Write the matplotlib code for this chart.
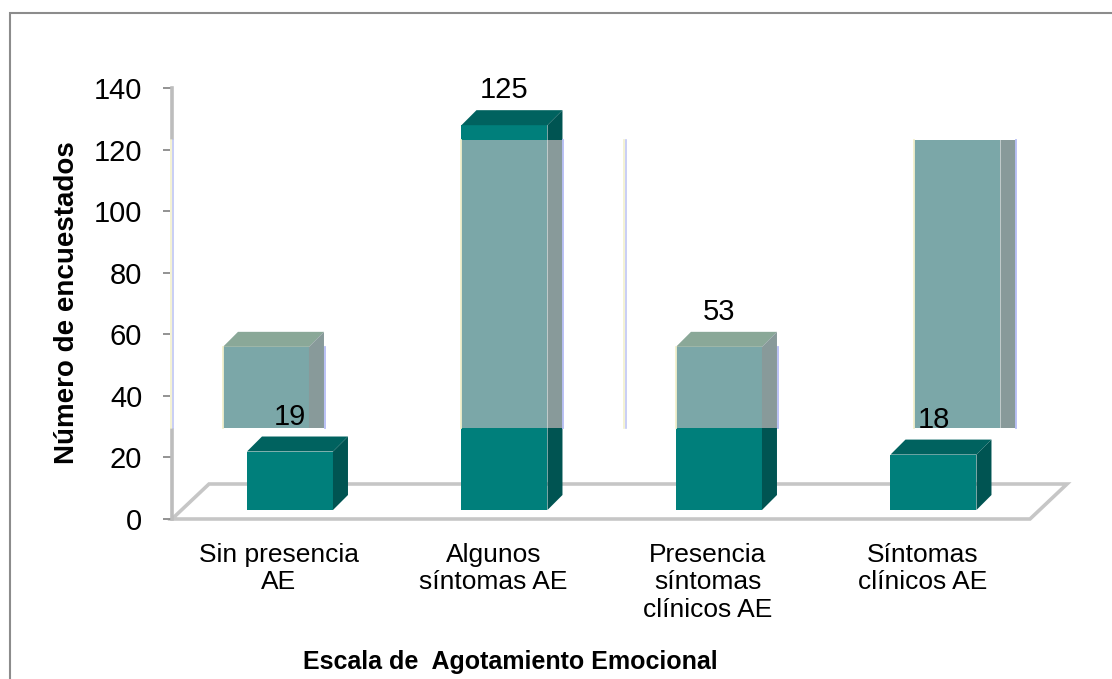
import matplotlib
matplotlib.use("Agg")
import matplotlib.pyplot as plt
from matplotlib.patches import Rectangle, Polygon

plt.rcParams["font.family"] = ["Liberation Sans", "DejaVu Sans"]

# data
categories = ["Sin presencia\nAE", "Algunos\nsíntomas AE", "Presencia\nsíntomas\nclínicos AE", "Síntomas\nclínicos AE"]
valores = [19, 125, 53, 18]
# ghost layer left in the picture by the rendering glitch
fantasma = [53, 125, 53, 125]
yticks = [0, 20, 40, 60, 80, 100, 120, 140]
titulo_x = "Escala de  Agotamiento Emocional"
titulo_y = "Número de encuestados"

W, H = 1112, 679
fig = plt.figure(figsize=(W / 100, H / 100), dpi=100)
fig.patch.set_facecolor("white")

# axes box in image pixels: x 172..1030, y 519 (0) .. 88 (140)
L, R, B, T = 172, 1030, 519, 88
ax = fig.add_axes([L / W, (H - B) / H, (R - L) / W, (B - T) / H])
xmin, xmax = -0.55, 3.45
ax.set_xlim(xmin, xmax)
ax.set_ylim(0, 140)
ax.patch.set_alpha(0)

sx = (R - L) / (xmax - xmin)  # px per x unit
sy = (B - T) / 140.0  # px per y unit


def px_x(p):
    return p / sx


def px_y(p):
    return p / sy


# outer frame
fig.patches.append(Rectangle((10 / W, -0.05), 1.2, (H - 13) / H + 0.05, transform=fig.transFigure,
                             fill=False, edgecolor="#8c8c8c", lw=1.5))

# floor
fdx, fdy = px_x(37), px_y(35)
floor = [(xmin, 0), (xmax, 0), (xmax + fdx, fdy), (xmin + fdx, fdy)]
ax.add_patch(Polygon(floor, closed=True, fill=False, edgecolor="#c6c6c6", lw=2.6,
                     joinstyle="miter", clip_on=False, zorder=1))

# bars
bw = px_x(86)
ddx, ddy = px_x(15), px_y(15)
base = px_y(9)
xs = list(range(len(valores)))


def bar3d(x, h, front, top, side, z, clip=None):
    x0, x1 = x - bw / 2, x + bw / 2
    y1 = base + h
    pts = [
        Rectangle((x0, base), bw, h, facecolor=front, edgecolor="none"),
        Polygon([(x0, y1), (x1, y1), (x1 + ddx, y1 + ddy), (x0 + ddx, y1 + ddy)],
                closed=True, facecolor=top, edgecolor="none"),
        Polygon([(x1, base), (x1 + ddx, base + ddy), (x1 + ddx, y1 + ddy), (x1, y1)],
                closed=True, facecolor=side, edgecolor="none"),
    ]
    for p in pts:
        p.set_zorder(z)
        ax.add_patch(p)
        if clip is not None:
            p.set_clip_on(True)
            p.set_clip_path(clip)
        else:
            p.set_clip_on(False)
    return x0, x1 + ddx


for x, v in zip(xs, valores):
    bar3d(x, v, "#007f7b", "#00625f", "#005452", 3)
    ax.annotate(str(v), (x, base + v + ddy), xytext=(0, 12 * 0.72), textcoords="offset points",
                ha="center", va="baseline", fontsize=21, color="black", zorder=10)

# axis
ax.spines[["top", "right", "bottom"]].set_visible(False)
ax.spines["left"].set_color("#bdbdbd")
ax.spines["left"].set_linewidth(2.6)
ax.set_yticks(yticks)
ax.tick_params(axis="y", length=6.5, width=1.2, color="#808080", pad=15, labelsize=21)
ax.set_xticks([x - px_x(11) for x in xs])
ax.set_xticklabels(categories, fontsize=19, linespacing=1.2)
ax.tick_params(axis="x", length=0, pad=17)

# glitch band: a white strip redrawn with a pale copy of the bars
band_lo, band_hi = px_y(B - 428), px_y(B - 140)
band = Rectangle((xmin - px_x(2), band_lo), px_x(1020 - 170), band_hi - band_lo,
                 facecolor="white", edgecolor="none", zorder=5, clip_on=False)
ax.add_patch(band)
shift_px = [-24, 0, 0, 24]
for x, v, s in zip(xs, fantasma, shift_px):
    gx = x + px_x(s)
    x0, x1 = bar3d(gx, v, "#7ba7a8", "#8aa898", "#889a9a", 6, clip=band)
    for xe, c in ((x0, "#f2f0cc"), (x1 + px_x(1), "#b4bcf4")):
        ln, = ax.plot([xe, xe], [band_lo, min(band_hi, base + v)], color=c, lw=1.3,
                      zorder=7, clip_on=False)
for xp in (172, 625):
    xe = xmin + px_x(xp - L)
    ax.plot([xe - px_x(1), xe - px_x(1)], [band_lo, band_hi], color="#f2f0cc", lw=1.2, zorder=7,
            clip_on=False)
    ax.plot([xe + px_x(1), xe + px_x(1)], [band_lo, band_hi], color="#c0c6f4", lw=1.2, zorder=7,
            clip_on=False)

# titles
fig.text(510 / W, 1 - 662 / H, titulo_x, ha="center", va="center", fontsize=18, fontweight="bold")
fig.text(67 / W, 1 - 303 / H, titulo_y, ha="center", va="center", rotation=90, fontsize=20,
         fontweight="bold")

fig.savefig("out.png", dpi=100)
